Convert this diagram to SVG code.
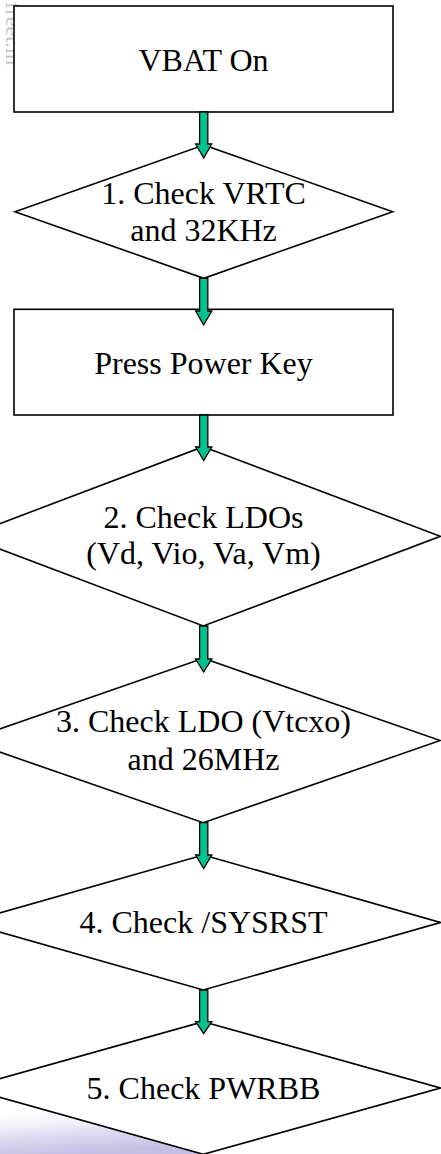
<svg xmlns="http://www.w3.org/2000/svg" width="441" height="1154" viewBox="0 0 441 1154">
<style>
.node{fill:#ffffff;stroke:#000000;stroke-width:1.6}
.lbl{font-family:"Liberation Serif","Times New Roman",serif;font-size:32px;fill:#000000;text-anchor:middle}
.arr{fill:#00c18f;stroke:#000000;stroke-width:1.3;stroke-linejoin:miter}
.wm{font-family:"Liberation Serif","Times New Roman",serif;font-size:22px;fill:#c4c4c4}
</style>
<defs>
<linearGradient id="swoosh" x1="0" y1="0" x2="0.3" y2="1">
<stop offset="0" stop-color="#ffffff" stop-opacity="0"/>
<stop offset="0.55" stop-color="#e4e0f3"/>
<stop offset="1" stop-color="#c6bfe4"/>
</linearGradient>
</defs>
<rect x="0" y="0" width="441" height="1154" fill="#ffffff"/>
<path d="M0,1108 Q110,1112 210,1154 L0,1154 Z" fill="url(#swoosh)"/>
<text class="wm" transform="translate(6,2) rotate(90)">freet.in</text>

<g id="n1">
<rect class="node" x="14" y="6" width="379" height="106"/>
<text class="lbl" x="203.5" y="71">VBAT On</text>
</g>
<g id="n2">
<polygon class="node" points="203.8,145 392.7,211.7 203.8,278.3 15,211.7"/>
<text class="lbl" x="203.5" y="204">1. Check VRTC</text>
<text class="lbl" x="203.5" y="241">and 32KHz</text>
</g>
<g id="n3">
<rect class="node" x="14" y="309.3" width="379" height="105.7"/>
<text class="lbl" x="203.5" y="374">Press Power Key</text>
</g>
<g id="n4">
<polygon class="node" points="203.3,446.7 440.3,536.3 203.3,626 -33.7,536.3"/>
<text class="lbl" x="203.5" y="527.5">2. Check LDOs</text>
<text class="lbl" x="203.5" y="564">(Vd, Vio, Va, Vm)</text>
</g>
<g id="n5">
<polygon class="node" points="203.3,658.3 440.3,740.5 203.3,822.7 -33.7,740.5"/>
<text class="lbl" x="203.5" y="731.5">3. Check LDO (Vtcxo)</text>
<text class="lbl" x="203.5" y="770">and 26MHz</text>
</g>
<g id="n6">
<polygon class="node" points="203.3,855 440.3,922.5 203.3,990 -33.7,922.5"/>
<text class="lbl" x="203.5" y="932.7">4. Check /SYSRST</text>
</g>
<g id="n7">
<polygon class="node" points="203.3,1021.7 440.3,1088 203.3,1154.3 -33.7,1088"/>
<text class="lbl" x="203.5" y="1099.3">5. Check PWRBB</text>
</g>

<g id="connectors">
<polygon class="arr" points="199.6,112 207.8,112 207.8,144 211.8,144 203.7,158 195.6,144 199.6,144"/>
<polygon class="arr" points="199.6,278.3 207.8,278.3 207.8,311 211.8,311 203.7,325 195.6,311 199.6,311"/>
<polygon class="arr" points="199.6,415 207.8,415 207.8,447 211.8,447 203.7,460.5 195.6,447 199.6,447"/>
<polygon class="arr" points="199.6,626 207.8,626 207.8,659 211.8,659 203.7,672 195.6,659 199.6,659"/>
<polygon class="arr" points="199.6,822.7 207.8,822.7 207.8,855 211.8,855 203.7,868.5 195.6,855 199.6,855"/>
<polygon class="arr" points="199.6,990 207.8,990 207.8,1021.7 211.8,1021.7 203.7,1033.5 195.6,1021.7 199.6,1021.7"/>
</g>
</svg>
